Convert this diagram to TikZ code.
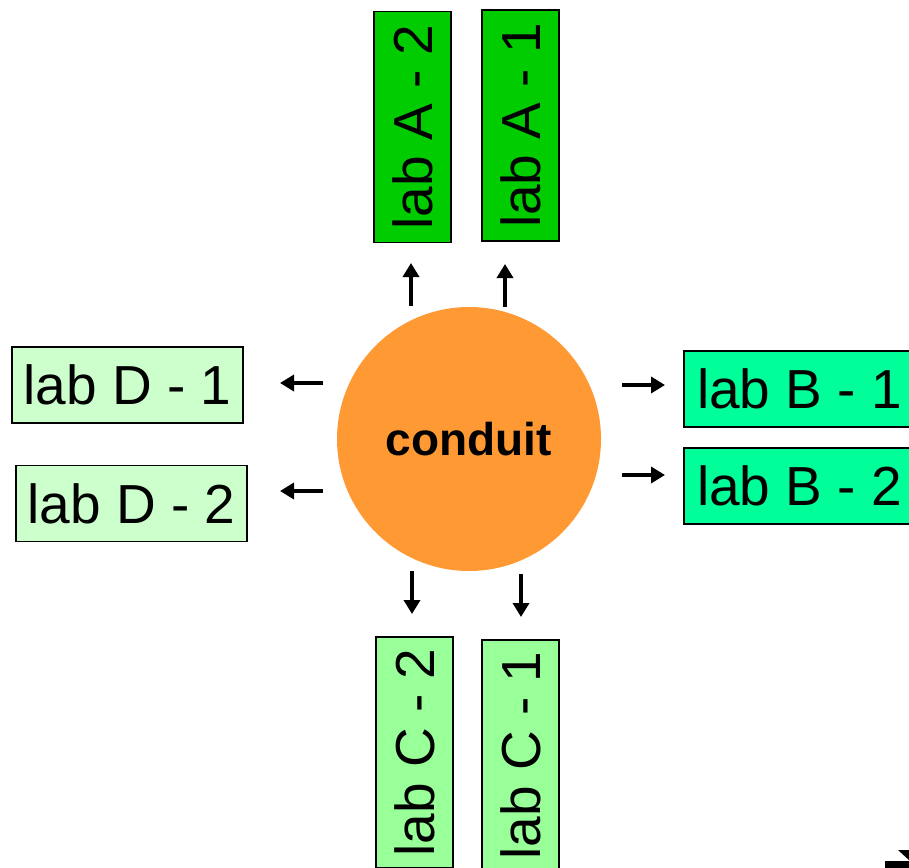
\documentclass[tikz,border=0pt]{standalone}
\usepackage{fontspec}
\setmainfont{Liberation Sans}
\usetikzlibrary{arrows.meta}
\definecolor{labA}{RGB}{0,204,0}
\definecolor{labB}{RGB}{0,255,153}
\definecolor{labC}{RGB}{153,255,153}
\definecolor{labD}{RGB}{204,255,204}
\definecolor{cond}{RGB}{255,153,51}
\tikzset{
  labbox/.style={draw=black, line width=1.5pt, inner sep=0pt, font=\fontsize{55}{60}\selectfont},
  hbox/.style={labbox, minimum width=231pt, minimum height=76pt},
  vbox/.style={labbox, minimum width=231pt, minimum height=77pt, rotate=90},
  arr/.style={line width=3.5pt, -{Triangle[length=14pt,width=16pt]}},
}
\begin{document}
\begin{tikzpicture}[x=1pt,y=-1pt]
\useasboundingbox (0,0) rectangle (909,867);
\clip (0,0) rectangle (909,867);
% central circle
\node[circle, fill=cond, minimum size=264pt, inner sep=0pt, font=\fontsize{46}{50}\selectfont\bfseries] (c) at (469,439) {conduit};
% lab boxes
\node[vbox, fill=labA] (a2) at (412.5,127) {lab A - 2};
\node[vbox, fill=labA] (a1) at (520.5,125.5) {lab A - 1};
\node[hbox, fill=labD] (d1) at (127.5,385) {lab D - 1};
\node[hbox, fill=labD] (d2) at (131.5,503.5) {lab D - 2};
\node[hbox, fill=labB] (b1) at (799.5,389) {lab B - 1};
\node[hbox, fill=labB] (b2) at (799.5,486) {lab B - 2};
\node[vbox, fill=labC] (c2) at (414.5,752.5) {lab C - 2};
\node[vbox, fill=labC] (c1) at (520.5,755.5) {lab C - 1};
% arrow end points
\coordinate (ua2s) at (411,306); \coordinate (ua2e) at (411,263);
\coordinate (ua1s) at (505,307); \coordinate (ua1e) at (505,264);
\coordinate (dc2s) at (412,571); \coordinate (dc2e) at (412,614);
\coordinate (dc1s) at (521,574); \coordinate (dc1e) at (521,617);
\coordinate (rb1s) at (622,385); \coordinate (rb1e) at (665,385);
\coordinate (rb2s) at (622,475); \coordinate (rb2e) at (665,475);
\coordinate (ld1s) at (323,383); \coordinate (ld1e) at (280,383);
\coordinate (ld2s) at (323,491); \coordinate (ld2e) at (280,491);
\draw[arr] (ua2s) -- (ua2e);
\draw[arr] (ua1s) -- (ua1e);
\draw[arr] (dc2s) -- (dc2e);
\draw[arr] (dc1s) -- (dc1e);
\draw[arr] (rb1s) -- (rb1e);
\draw[arr] (rb2s) -- (rb2e);
\draw[arr] (ld1s) -- (ld1e);
\draw[arr] (ld2s) -- (ld2e);
% cropped fragment at bottom right
\fill[black] (898,850) -- (910,850) -- (910,861) -- cycle;
\fill[black] (885,861) rectangle (910,868);
\end{tikzpicture}
\end{document}
